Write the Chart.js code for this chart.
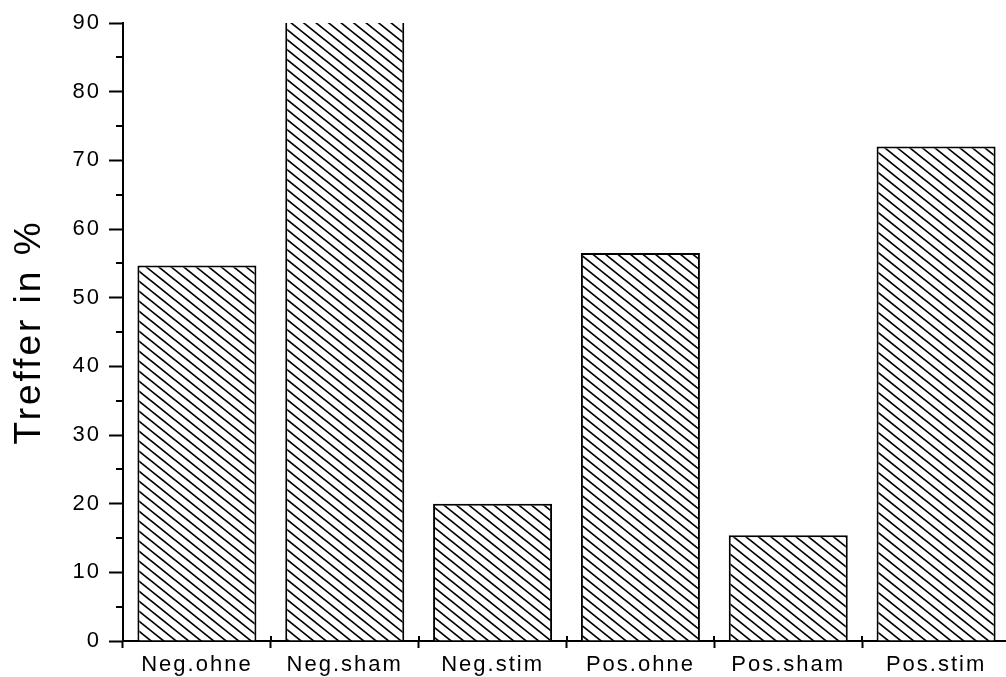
<!DOCTYPE html>
<html>
<head>
<meta charset="utf-8">
<script src="https://cdn.jsdelivr.net/npm/chart.js@4/dist/chart.umd.min.js"></script>
<style>
  html, body { margin: 0; padding: 0; background: #fff; overflow: hidden; }
  #wrap { position: absolute; left: 0; top: 0; width: 1012px; height: 677px; }
</style>
</head>
<body>
<div id="wrap"><canvas id="c" width="1012" height="677"></canvas></div>
<script>
// Trefferquote je Bedingung
const categories = ['Neg.ohne', 'Neg.sham', 'Neg.stim', 'Pos.ohne', 'Pos.sham', 'Pos.stim'];
const hits = [54.7, 90, 20, 56.5, 15.4, 72];
const yMin = 0;
const yMax = 90;
const yStep = 10;
const yTitle = 'Treffer in %';

const FONT = '"Liberation Sans", Arial, sans-serif';

// diagonal "\\\\" hatch fill
function makeHatch() {
  const W = 25, H = 20;
  const t = document.createElement('canvas');
  t.width = W; t.height = H;
  const g = t.getContext('2d');
  g.fillStyle = '#fff';
  g.fillRect(0, 0, W, H);
  g.strokeStyle = '#000';
  g.lineWidth = 1.7;
  for (let a = -50; a <= 50; a += 12.5) {
    g.beginPath();
    g.moveTo(a - W, -H);
    g.lineTo(a + 2 * W, 2 * H);
    g.stroke();
  }
  return g.createPattern(t, 'repeat');
}

const ctx = document.getElementById('c').getContext('2d');
const hatch = makeHatch();

// letter spacing for all canvas text; y title a bit wider
const spacingPlugin = {
  id: 'spacing',
  beforeLayout(chart) { chart.ctx.letterSpacing = '2px'; },
  beforeDraw(chart) { chart.ctx.letterSpacing = '2px'; },
  afterLayout(chart) {
    const y = chart.scales.y;
    if (y && !y._wideTitle) {
      const orig = y.drawTitle.bind(y);
      y.drawTitle = function () {
        const c = chart.ctx;
        const prev = c.letterSpacing;
        c.letterSpacing = '3px';
        orig();
        c.letterSpacing = prev;
      };
      y._wideTitle = true;
    }
  }
};

// minor y ticks and the upper half of the category separators
const extraTicks = {
  id: 'extraTicks',
  afterDraw(chart) {
    const c = chart.ctx;
    const x = chart.scales.x, y = chart.scales.y;
    c.save();
    c.strokeStyle = '#000';
    c.lineWidth = 2;
    c.beginPath();
    for (let v = yMin + yStep / 2; v < yMax; v += yStep) {
      const py = Math.round(y.getPixelForValue(v));
      c.moveTo(y.right - 7, py);
      c.lineTo(y.right, py);
    }
    const axisY = y.getPixelForValue(yMin);
    for (let i = 0; i <= categories.length; i++) {
      const px = Math.round(x.getPixelForValue(i - 0.5));
      c.moveTo(px, axisY - 5);
      c.lineTo(px, axisY);
    }
    c.stroke();
    c.restore();
  }
};

new Chart(ctx, {
  type: 'bar',
  data: {
    labels: categories,
    datasets: [{
      data: hits,
      backgroundColor: hatch,
      borderColor: '#000',
      borderWidth: (c) => (c.raw >= yMax ? { left: 2, right: 2, top: 0, bottom: 0 } : 2),
      borderSkipped: 'start',
      categoryPercentage: 1,
      barPercentage: 0.805
    }]
  },
  options: {
    responsive: false,
    animation: false,
    events: [],
    layout: { padding: { left: 0, right: 2, top: 23, bottom: 0 } },
    plugins: {
      legend: { display: false },
      tooltip: { enabled: false }
    },
    scales: {
      x: {
        offset: true,
        grid: {
          offset: true,
          drawOnChartArea: false,
          drawTicks: true,
          tickLength: 7,
          tickWidth: 2,
          tickColor: '#000'
        },
        border: { display: true, color: '#000', width: 2 },
        ticks: {
          color: '#000',
          font: { family: FONT, size: 22 },
          padding: 4,
          maxRotation: 0,
          autoSkip: false
        },
        afterFit(s) { s.height = 36; }
      },
      y: {
        min: yMin,
        max: yMax,
        grid: {
          drawOnChartArea: false,
          drawTicks: true,
          tickLength: 14,
          tickWidth: 2,
          tickColor: '#000'
        },
        border: { display: true, color: '#000', width: 2 },
        ticks: {
          stepSize: yStep,
          color: '#000',
          font: { family: FONT, size: 22 },
          padding: 8
        },
        title: {
          display: true,
          text: yTitle,
          color: '#000',
          font: { family: FONT, size: 37, weight: 'normal' },
          padding: { top: 8, bottom: 0 }
        },
        afterFit(s) { s.width = 123; }
      }
    }
  },
  plugins: [spacingPlugin, extraTicks]
});
</script>
</body>
</html>
